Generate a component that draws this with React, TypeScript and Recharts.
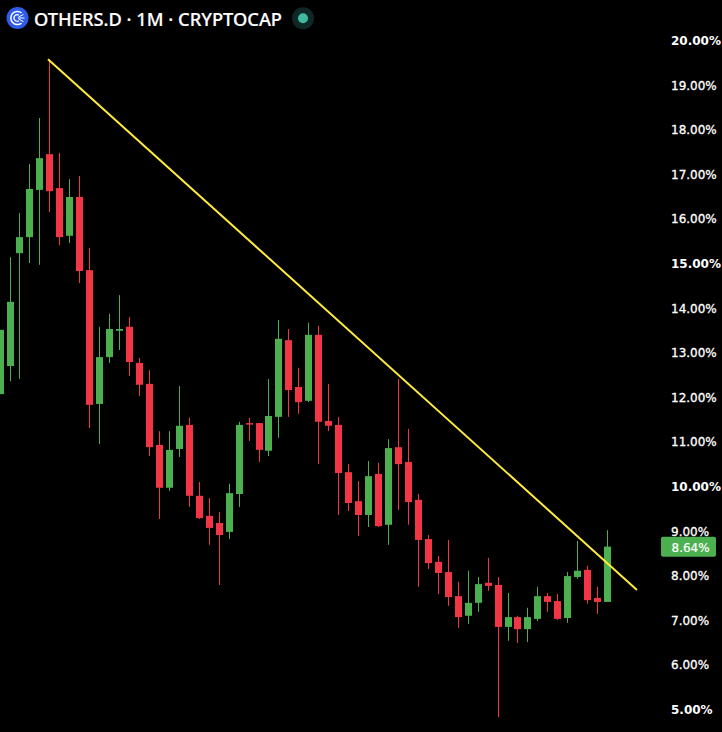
import { ComposedChart, XAxis, YAxis, Bar, ReferenceLine } from 'recharts';

const GREEN = '#4CAF50';
const RED = '#F23645';

const opens = [12.06, 12.69, 15.22, 15.58, 16.64, 17.44, 16.68, 15.61, 16.48, 14.84, 11.84, 12.89, 13.48, 13.57, 12.76, 12.29, 10.92, 9.96, 10.83, 11.37, 9.78, 9.33, 9.17, 8.97, 9.82, 11.41, 11.41, 10.79, 11.55, 13.27, 12.22, 11.91, 13.39, 11.46, 11.37, 10.31, 9.66, 9.35, 10.27, 9.13, 10.87, 10.54, 9.69, 8.81, 8.3, 8.07, 7.53, 7.09, 7.38, 7.83, 7.78, 6.84, 7.06, 6.79, 7.02, 7.53, 7.42, 7.04, 7.96, 8.12, 7.49, 7.4];
const closes = [13.5, 14.13, 15.58, 16.66, 17.35, 16.61, 15.58, 16.48, 14.82, 11.82, 12.89, 13.52, 13.52, 12.78, 12.27, 10.87, 9.96, 10.81, 11.35, 9.78, 9.28, 9.06, 8.9, 9.84, 11.37, 11.39, 10.81, 11.57, 13.3, 12.15, 11.88, 13.39, 11.44, 11.35, 10.29, 9.62, 9.35, 10.22, 9.1, 10.85, 10.49, 9.64, 8.79, 8.27, 8.05, 7.51, 7.06, 7.38, 7.8, 7.76, 6.84, 7.06, 6.79, 7.06, 7.53, 7.4, 7.02, 7.98, 8.1, 7.44, 7.4, 8.64];
const highs = [13.5, 15.13, 16.12, 17.22, 18.25, 19.57, 17.47, 16.88, 16.95, 15.34, 13.57, 13.86, 14.28, 13.79, 12.87, 12.6, 11.23, 11.23, 12.24, 11.53, 10.09, 9.73, 9.42, 10.05, 11.44, 11.53, 11.41, 12.4, 13.72, 13.52, 12.65, 13.66, 13.59, 12.29, 11.55, 10.49, 10.11, 10.56, 10.52, 11.05, 12.4, 11.28, 9.82, 8.9, 8.43, 8.79, 7.85, 8.1, 7.96, 8.39, 7.96, 7.6, 7.09, 7.27, 7.74, 7.6, 7.58, 8.07, 8.77, 8.21, 7.74, 9.01];
const lows = [12.06, 12.35, 12.4, 15.0, 14.96, 16.14, 15.4, 15.45, 14.55, 11.3, 10.94, 12.76, 13.05, 12.47, 12.02, 10.67, 9.26, 9.89, 10.65, 9.53, 9.26, 8.68, 7.78, 8.81, 9.53, 11.01, 10.54, 10.67, 11.08, 11.55, 11.62, 11.88, 10.49, 11.23, 9.35, 9.44, 8.88, 9.08, 9.08, 8.68, 9.46, 9.13, 7.74, 8.14, 7.58, 7.31, 6.82, 6.91, 7.18, 7.65, 4.82, 6.53, 6.48, 6.5, 6.97, 7.18, 7.0, 6.93, 7.92, 7.36, 7.13, 7.4];
const priceTicks = [20, 19, 18, 17, 16, 15, 14, 13, 12, 11, 10, 9, 8, 7, 6, 5];
const majorTicks = [20, 15, 10, 5];

const trendStart = { x: 4.766, y: 19.57 };
const trendEnd = { x: 63.9, y: 7.67 };
const lastPrice = 8.64;

const candles = opens.map((open, i) => ({
  i,
  open,
  close: closes[i],
  high: highs[i],
  low: lows[i],
}));

// wick and body both come from the bar's own pixel range (low..high)
const Candle = ({ x, y, width, height, payload }: any) => {
  const { open, close, high, low } = payload;
  const color = close >= open ? GREEN : RED;
  const perUnit = height / (high - low || 1);
  const top = y + (high - Math.max(open, close)) * perUnit;
  const bottom = y + (high - Math.min(open, close)) * perUnit;
  const col = Math.floor(x + width / 2);
  return (
    <g>
      <rect x={col} y={y} width={1} height={height} fill={color} />
      <rect x={col - 3} y={top} width={7} height={Math.max(bottom - top, 1.5)} fill={color} />
    </g>
  );
};

const PriceTick = ({ x, y, payload }: any) => {
  const major = majorTicks.includes(payload.value);
  return (
    <text
      x={x + 3}
      y={y + 1}
      dominantBaseline="central"
      fontFamily="DejaVu Sans"
      fontSize={12}
      fontWeight={major ? 700 : 400}
      fill="#fff"
      stroke="#fff"
      strokeWidth={major ? 0 : 0.3}
    >
      {payload.value.toFixed(2)}%
    </text>
  );
};

const PriceTag = ({ viewBox }: any) => {
  const left = viewBox.x + viewBox.width + 1;
  return (
    <g>
      <rect x={left} y={viewBox.y - 10} width={55} height={20} rx={2} fill={GREEN} />
      <text
        x={left + 10.5}
        y={viewBox.y + 1}
        dominantBaseline="central"
        fontFamily="DejaVu Sans"
        fontSize={12}
        fill="#fff"
        stroke="#fff"
        strokeWidth={0.2}
      >
        {lastPrice.toFixed(2)}%
      </text>
    </g>
  );
};

const Header = () => (
  <div style={{ position: 'absolute', left: 0, top: 0, width: 340, height: 36 }}>
    <svg width={340} height={36} style={{ position: 'absolute', left: 0, top: 0 }}>
      <circle cx={17.5} cy={18} r={11} fill="#2F5BEA" />
      <path d="M21.5 12.8a6.6 6.6 0 1 0 0 10.4" fill="none" stroke="#fff" strokeWidth={1.5} />
      <path d="M19 15.2a3.3 3.3 0 1 0 0 5.6" fill="none" stroke="#fff" strokeWidth={1.2} />
      <path d="M18 18h6.5M18.5 17l5-2.6M18.5 19l5 2.6" stroke="#fff" strokeWidth={1} />
      <circle cx={303} cy={18.3} r={11} fill="#0E2825" />
      <circle cx={303} cy={18.3} r={5} fill="#3CBBA0" />
    </svg>
    <div
      style={{
        position: 'absolute',
        left: 34,
        top: 6,
        fontFamily: 'Noto Sans',
        fontSize: 18.3,
        fontWeight: 500,
        lineHeight: '25px',
        color: '#fff',
        whiteSpace: 'nowrap',
        WebkitTextStroke: '0.2px #fff',
      }}
    >
      OTHERS.D · 1M · CRYPTOCAP
    </div>
  </div>
);

export default function App() {
  return (
    <div style={{ position: 'fixed', left: 0, top: 0, width: 722, height: 732, background: '#000', overflow: 'hidden' }}>
      <ComposedChart width={722} height={732} data={candles} margin={{ top: 0, right: 0, bottom: 0, left: 0 }}>
        <XAxis dataKey="i" type="number" domain={[-0.054, 66.21]} allowDataOverflow hide />
        <YAxis
          orientation="right"
          width={62}
          domain={[4.484, 20.897]}
          allowDataOverflow
          ticks={priceTicks}
          interval={0}
          axisLine={false}
          tickLine={false}
          tick={<PriceTick />}
        />
        <ReferenceLine segment={[trendStart, trendEnd]} stroke="#FFEB3B" strokeWidth={2} />
        <Bar
          dataKey={(d: any) => [d.low, d.high]}
          barSize={7}
          shape={<Candle />}
          isAnimationActive={false}
        />
        <ReferenceLine y={lastPrice} stroke="none" label={<PriceTag />} />
      </ComposedChart>
      <Header />
    </div>
  );
}
